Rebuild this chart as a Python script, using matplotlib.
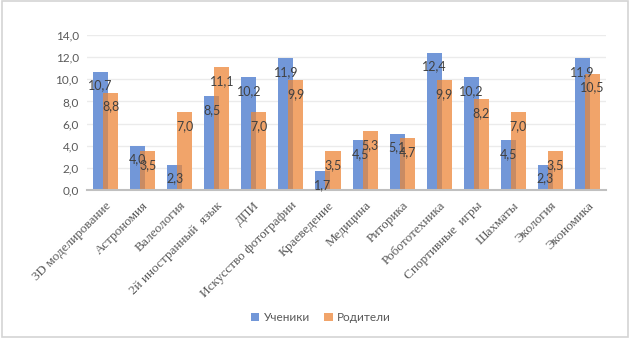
import numpy as np
import matplotlib
matplotlib.use("Agg")
import matplotlib.pyplot as plt
from matplotlib.patches import Rectangle

categories = [
    "3D моделирование", "Астрономия", "Валеология", "2й иностранный  язык",
    "ДПИ", "Искусство фотографии", "Краеведение", "Медицина", "Риторика",
    "Робототехника", "Спортивные  игры", "Шахматы", "Экология", "Экономика",
]
pupils = [10.7, 4.0, 2.3, 8.5, 10.2, 11.9, 1.7, 4.5, 5.1, 12.4, 10.2, 4.5, 2.3, 11.9]
parents = [8.8, 3.5, 7.0, 11.1, 7.0, 9.9, 3.5, 5.3, 4.7, 9.9, 8.2, 7.0, 3.5, 10.5]
series_names = ["Ученики", "Родители"]
y_ticks = [0, 2, 4, 6, 8, 10, 12, 14]

blue = "#7297d8"
orange = "#f1a46a"
overlap_col = "#c98b63"
sans = ["Lato", "DejaVu Sans"]
serif = ["Liberation Serif", "DejaVu Serif"]

fig = plt.figure(figsize=(6.32, 3.39), dpi=100)
ax = fig.add_axes([0.1377, 0.4395, 0.8212, 0.4573])

x = np.arange(len(categories))
w = 0.405
shift = 0.135

b1 = ax.bar(x - shift, pupils, w, color=blue, zorder=2, label=series_names[0])
b2 = ax.bar(x + shift, parents, w, color=orange, zorder=3, label=series_names[1])
# darker strip where the orange bar covers the blue one
ax.bar(x, np.minimum(pupils, parents), w - 2 * shift, color=overlap_col, zorder=4)

for bars, vals in ((b1, pupils), (b2, parents)):
    for r, v in zip(bars, vals):
        ax.annotate(f"{v:.1f}".replace(".", ","),
                    (r.get_x() + r.get_width() / 2, v),
                    xytext=(0, -10), textcoords="offset points",
                    ha="center", va="center", fontsize=9,
                    color="#404040", family=sans, zorder=6)

ax.set_xlim(-0.5, len(categories) - 0.5)
ax.set_ylim(0, 14)
ax.set_yticks(y_ticks)
ax.set_yticklabels([f"{t:.1f}".replace(".", ",") for t in y_ticks],
                   fontsize=8.5, color="#595959", family=sans)
ax.set_xticks(x)
ax.set_xticklabels(categories, rotation=45, ha="right", va="top",
                   rotation_mode="anchor", fontsize=9.5, color="#595959",
                   family=serif)
ax.tick_params(axis="both", length=0)
ax.tick_params(axis="x", pad=7)
ax.tick_params(axis="y", pad=6)

ax.grid(axis="y", color="#ebebeb", linewidth=1, zorder=0)
for s in ("left", "right", "top"):
    ax.spines[s].set_visible(False)
ax.spines["bottom"].set_color("#c0c0c0")
ax.spines["bottom"].set_linewidth(1.5)
ax.spines["bottom"].set_zorder(5)

leg = fig.legend(handles=[b1, b2], loc="center", bbox_to_anchor=(0.508, 0.062),
                 ncol=2, frameon=False, handlelength=0.7,
                 handleheight=0.7, handletextpad=0.4, columnspacing=1.2,
                 prop={"family": sans, "size": 8.5})
for t in leg.get_texts():
    t.set_color("#595959")

fig.patches.append(Rectangle((1.5 / 632, 2 / 339), 626 / 632, 336 / 339,
                             transform=fig.transFigure, fill=False,
                             edgecolor="#d4d4d4", linewidth=1.2))

fig.savefig("out.png", dpi=100, facecolor="white")
